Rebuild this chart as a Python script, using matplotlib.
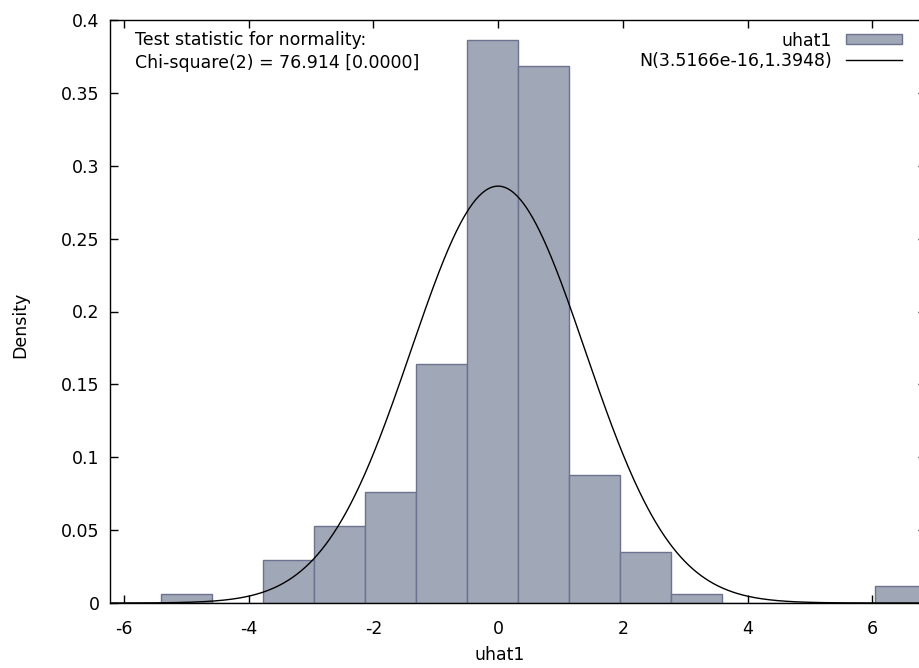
import numpy as np
import matplotlib
matplotlib.use("Agg")
import matplotlib.pyplot as plt
from matplotlib.lines import Line2D
from matplotlib.patches import Rectangle

plt.rcParams['font.family'] = ['DejaVu Sans']

# Histogram data (density), bin edges
bin_edges = [-5.402, -4.585, -3.768, -2.951, -2.134, -1.317, -0.500, 0.317,
             1.134, 1.951, 2.768, 3.585, 4.402, 5.219, 6.036, 6.853]
densities = [0.0059, 0.0, 0.0293, 0.0527, 0.0761, 0.1639, 0.3863, 0.3686,
             0.0878, 0.0351, 0.0059, 0.0, 0.0, 0.0, 0.0117]

# Normal fit parameters (from the legend)
mu = 3.5166e-16
sigma = 1.3948

xticks = [-6, -4, -2, 0, 2, 4, 6]
xtick_labels = ['-6', '-4', '-2', '0', '2', '4', '6']
yticks = [0, 0.05, 0.1, 0.15, 0.2, 0.25, 0.3, 0.35, 0.4]
ytick_labels = ['0', '0.05', '0.1', '0.15', '0.2', '0.25', '0.3', '0.35', '0.4']

FS = 12.5
W, H = 920, 668
fig = plt.figure(figsize=(W / 100, H / 100), dpi=100)
left_px, right_px, top_px, bottom_px = 110.5, 925.5, 20.0, 603.0
ax = fig.add_axes([left_px / W, 1 - bottom_px / H,
                   (right_px - left_px) / W, (bottom_px - top_px) / H])

fill = '#a0a7b6'
edge = '#6b7390'
widths = np.diff(bin_edges)
ax.bar(bin_edges[:-1], densities, width=widths, align='edge',
       color=fill, edgecolor=edge, linewidth=1.0, zorder=2)

xs = np.linspace(-6.214, 6.853, 800)
ys = np.exp(-0.5 * ((xs - mu) / sigma) ** 2) / (sigma * np.sqrt(2 * np.pi))
ax.plot(xs, ys, color='black', linewidth=1.0, zorder=3)

ax.set_xlim(-6.214, 6.853)
ax.set_ylim(0, 0.4)
ax.set_xticks(xticks)
ax.set_xticklabels(xtick_labels)
ax.set_yticks(yticks)
ax.set_yticklabels(ytick_labels)
ax.tick_params(direction='in', length=6, width=1, top=True, right=True,
               labelsize=FS, colors='black')
ax.tick_params(axis='x', pad=12)
ax.tick_params(axis='y', pad=8)
for s in ax.spines.values():
    s.set_linewidth(1.0)

# axis labels placed at reference positions
fig.text(500 / W, 1 - 655 / H, 'uhat1', fontsize=FS, ha='center', va='center')
fig.text(20 / W, 1 - 325 / H, 'Density', fontsize=FS, ha='center', va='center',
         rotation=90)

fig.text(135 / W, 1 - 45 / H, 'Test statistic for normality:',
         fontsize=FS, ha='left', va='baseline')
fig.text(135 / W, 1 - 68 / H, 'Chi-square(2) = 76.914 [0.0000]',
         fontsize=FS, ha='left', va='baseline')

# Legend drawn manually to match layout
fig.text(832 / W, 1 - 46 / H, 'uhat1', fontsize=FS, ha='right', va='baseline')
fig.text(832 / W, 1 - 66 / H, 'N(3.5166e-16,1.3948)', fontsize=FS, ha='right',
         va='baseline')
fig.patches.append(Rectangle((846 / W, 1 - 43.5 / H), 56 / W, 10 / H,
                             transform=fig.transFigure, facecolor=fill,
                             edgecolor=edge, linewidth=1.0))
fig.lines.append(Line2D([846 / W, 902 / W], [1 - 60 / H, 1 - 60 / H],
                        transform=fig.transFigure, color='black', linewidth=1.0))

fig.savefig('out.png', dpi=100)
